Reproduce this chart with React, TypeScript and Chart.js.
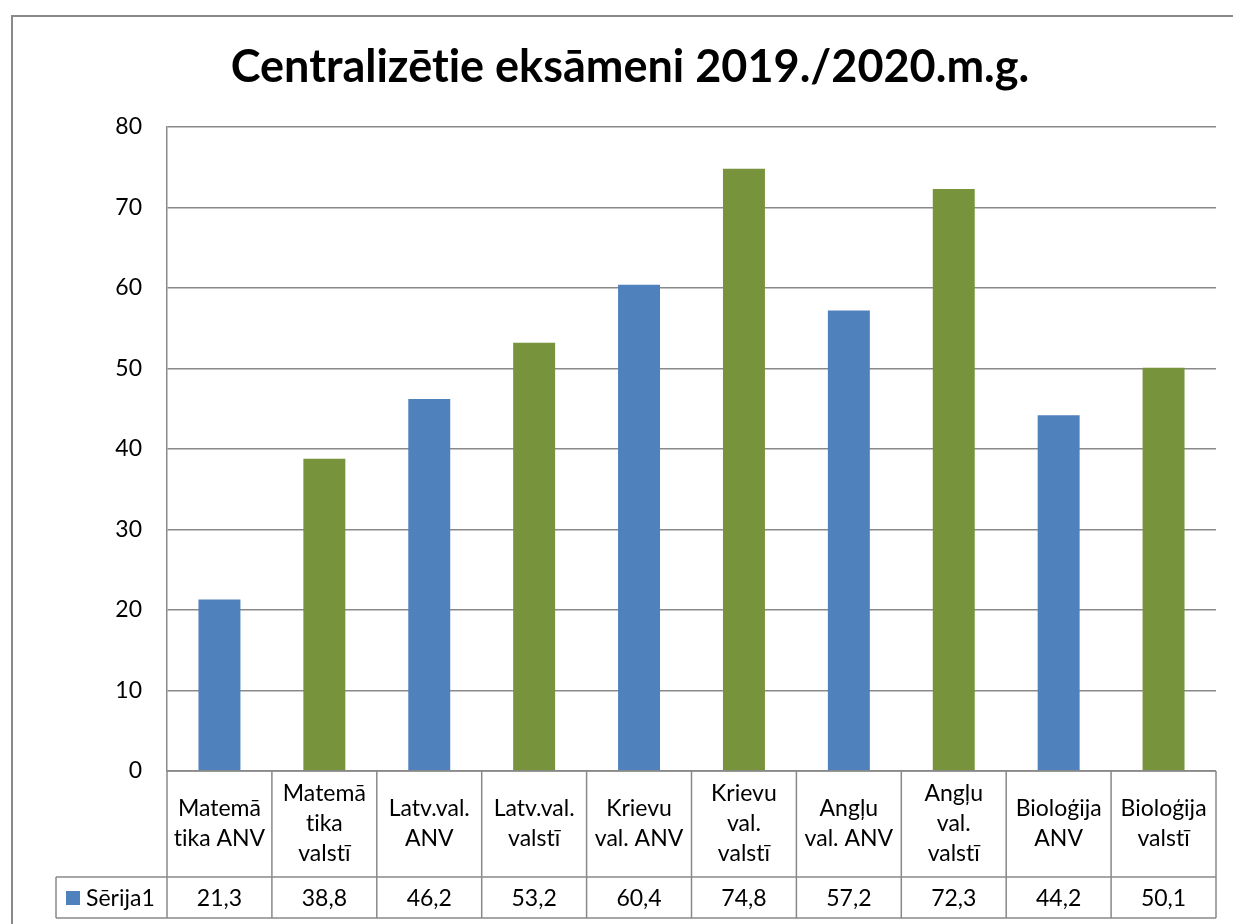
import React, { useEffect, useRef } from "react";
import { Chart, registerables } from "chart.js";

Chart.register(...registerables);

const TITLE = "Centralizētie eksāmeni 2019./2020.m.g.";
const SERIES_NAME = "Sērija1";
const CATEGORIES: string[][] = [
  ["Matemā", "tika ANV"],
  ["Matemā", "tika", "valstī"],
  ["Latv.val.", "ANV"],
  ["Latv.val.", "valstī"],
  ["Krievu", "val. ANV"],
  ["Krievu", "val.", "valstī"],
  ["Angļu", "val. ANV"],
  ["Angļu", "val.", "valstī"],
  ["Bioloģija", "ANV"],
  ["Bioloģija", "valstī"],
];
const VALUES: number[] = [21.3, 38.8, 46.2, 53.2, 60.4, 74.8, 57.2, 72.3, 44.2, 50.1];
const Y_MIN = 0;
const Y_MAX = 80;
const Y_STEP = 10;

const BLUE = "#4F81BD";
const GREEN = "#77933C";
const GRAY = "#898989";
const FONT = "Lato, 'Liberation Sans', sans-serif";

const fmt = (v: number) => v.toFixed(1).replace(".", ",");

const tablePlugin = {
  id: "excelTable",
  afterDraw(chart: any) {
    const ctx: any = chart.ctx;
    const area = chart.chartArea;
    const xs = chart.scales.x;
    const n = CATEGORIES.length;
    const edges: number[] = [area.left];
    for (let i = 1; i < n; i++) {
      edges.push((xs.getPixelForValue(i - 1) + xs.getPixelForValue(i)) / 2);
    }
    edges.push(area.right);
    const top = area.bottom;
    const mid = top + 106;
    const bot = mid + 41;
    const legendLeft = 56;

    ctx.save();
    try {
      ctx.textRendering = "optimizeSpeed";
    } catch (e) {}
    // outer chart border
    ctx.strokeStyle = GRAY;
    ctx.lineWidth = 2;
    ctx.strokeRect(12, 16, 3000, 3000);

    ctx.lineWidth = 1.5;
    ctx.strokeStyle = GRAY;
    ctx.beginPath();
    ctx.moveTo(area.left, top);
    ctx.lineTo(area.right, top);
    ctx.moveTo(legendLeft, mid);
    ctx.lineTo(area.right, mid);
    ctx.moveTo(legendLeft, bot);
    ctx.lineTo(area.right, bot);
    for (const e of edges) {
      ctx.moveTo(e, top);
      ctx.lineTo(e, bot);
    }
    ctx.moveTo(legendLeft, mid);
    ctx.lineTo(legendLeft, bot);
    ctx.stroke();

    ctx.fillStyle = "#000";
    ctx.font = `23px ${FONT}`;
    ctx.textAlign = "center";
    ctx.textBaseline = "middle";
    const lh = 30;
    CATEGORIES.forEach((lines, i) => {
      const cx = (edges[i] + edges[i + 1]) / 2;
      const cy = (top + mid) / 2;
      lines.forEach((ln, j) => {
        ctx.fillText(ln, cx, cy + (j - (lines.length - 1) / 2) * lh);
      });
      ctx.fillText(fmt(VALUES[i]), cx, (mid + bot) / 2 + 1);
    });

    // legend cell
    ctx.fillStyle = BLUE;
    ctx.fillRect(66, 891, 14, 14);
    ctx.fillStyle = "#000";
    ctx.textAlign = "left";
    ctx.fillText(SERIES_NAME, 86, (mid + bot) / 2 + 1);

    // title
    ctx.font = `bold 45px ${FONT}`;
    ctx.textAlign = "center";
    ctx.textBaseline = "alphabetic";
    ctx.fillText(TITLE, 630, 82);
    ctx.restore();
  },
};

export default function App() {
  const ref = useRef<HTMLCanvasElement | null>(null);
  useEffect(() => {
    document.body.style.margin = "0";
    const canvas = ref.current!;
    const chart = new Chart(canvas, {
      type: "bar",
      data: {
        labels: CATEGORIES.map((c) => c.join(" ")),
        datasets: [
          {
            label: SERIES_NAME,
            data: VALUES,
            backgroundColor: VALUES.map((_, i) => (i % 2 === 0 ? BLUE : GREEN)),
            barPercentage: 0.4,
            categoryPercentage: 1,
          },
        ],
      },
      options: {
        responsive: false,
        devicePixelRatio: 1,
        animation: false,
        layout: { padding: { left: 0, top: 127, right: 17, bottom: 0 } },
        plugins: {
          legend: { display: false },
          title: { display: false },
          tooltip: { enabled: false },
        },
        scales: {
          x: {
            ticks: { display: false },
            grid: { display: false },
            border: { display: false },
            afterFit: (s: any) => {
              s.height = 153;
            },
          },
          y: {
            min: Y_MIN,
            max: Y_MAX,
            ticks: {
              stepSize: Y_STEP,
              padding: 25,
              color: "#000",
              font: { family: FONT, size: 23 },
            },
            grid: { color: GRAY, lineWidth: 1.5, drawTicks: false },
            border: { display: true, color: GRAY, width: 1.5 },
            afterFit: (s: any) => {
              s.width = 167;
            },
          },
        },
      },
      plugins: [tablePlugin],
    });
    return () => chart.destroy();
  }, []);
  return (
    <div style={{ width: 1233, height: 924, background: "#fff" }}>
      <canvas ref={ref} width={1233} height={924} style={{ display: "block" }} />
    </div>
  );
}
